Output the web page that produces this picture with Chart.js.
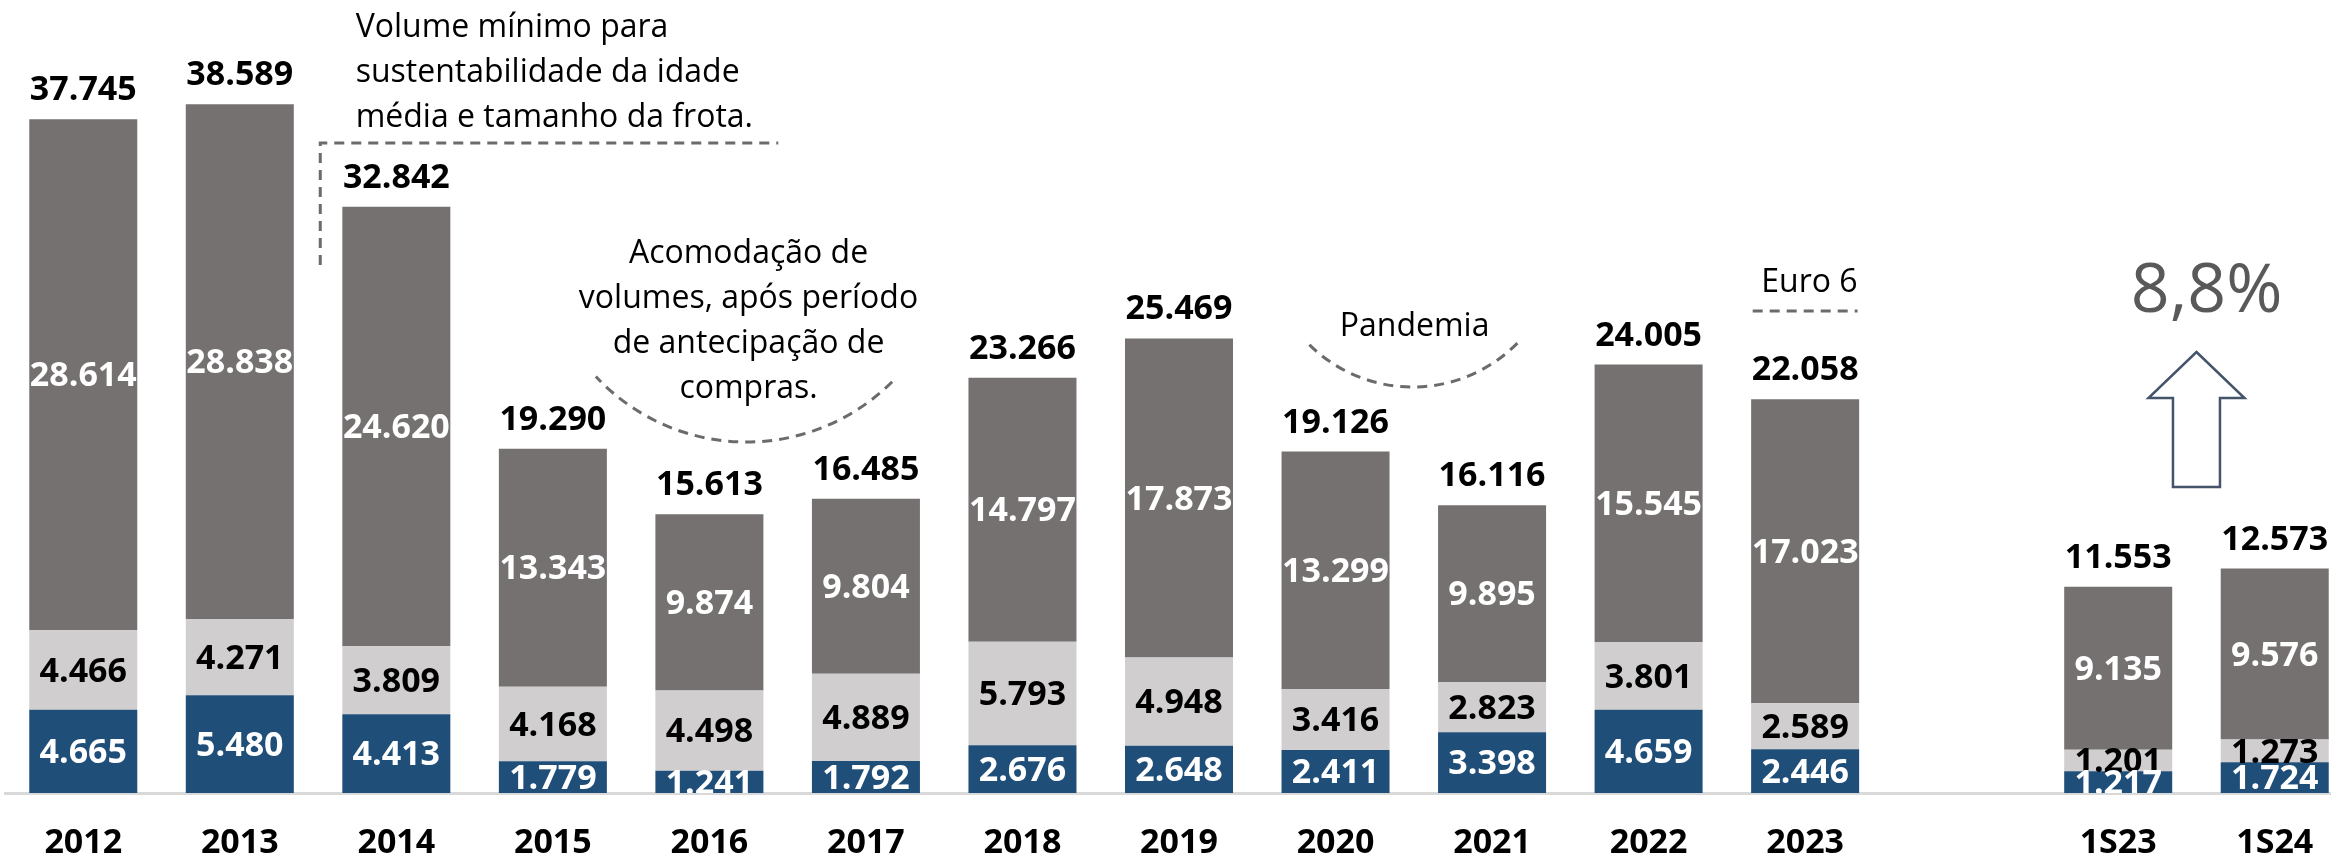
<!DOCTYPE html>
<html lang="pt-BR">
<head>
<meta charset="utf-8">
<script src="https://cdn.jsdelivr.net/npm/chart.js@4.4.1/dist/chart.umd.min.js"></script>
<style>
  html, body { margin: 0; padding: 0; background: #fff; overflow: hidden; }
  #wrap { position: relative; width: 2353px; height: 857px; }
</style>
</head>
<body>
<div id="wrap"><canvas id="vendas"></canvas></div>
<script>
const categorias = ['2012', '2013', '2014', '2015', '2016', '2017', '2018', '2019', '2020', '2021', '2022', '2023', '', '1S23', '1S24'];
const serieAzul = [4665, 5480, 4413, 1779, 1241, 1792, 2676, 2648, 2411, 3398, 4659, 2446, null, 1217, 1724];
const serieClara = [4466, 4271, 3809, 4168, 4498, 4889, 5793, 4948, 3416, 2823, 3801, 2589, null, 1201, 1273];
const serieEscura = [28614, 28838, 24620, 13343, 9874, 9804, 14797, 17873, 13299, 9895, 15545, 17023, null, 9135, 9576];

const notaFrota = ['Volume mínimo para', 'sustentabilidade da idade', 'média e tamanho da frota.'];
const notaAcomodacao = ['Acomodação de', 'volumes, após período', 'de antecipação de', 'compras.'];
const notaPandemia = 'Pandemia';
const notaEuro = 'Euro 6';
const variacao = '8,8%';

const fonte = "'Open Sans', 'Liberation Sans', sans-serif";
const tamRotulo = 34;
const tamNota = 32;
const corTraco = '#6b6b6b';

function fmt(v) {
  return String(v).replace(/\B(?=(\d{3})+(?!\d))/g, '.');
}

// rotulos dentro das barras + total em cima
const rotulosPlugin = {
  id: 'rotulos',
  afterDatasetsDraw(chart) {
    const { ctx, chartArea } = chart;
    const cores = ['#ffffff', '#000000', '#ffffff'];
    ctx.save();
    ctx.beginPath();
    ctx.rect(chartArea.left, chartArea.top, chartArea.width, chartArea.height);
    ctx.clip();
    ctx.font = `bold ${tamRotulo}px ${fonte}`;
    ctx.textAlign = 'center';
    ctx.textBaseline = 'middle';
    [1, 0, 2].forEach(i => {
      const ds = chart.data.datasets[i];
      chart.getDatasetMeta(i).data.forEach((bar, j) => {
        const v = ds.data[j];
        if (v == null) return;
        ctx.fillStyle = cores[i];
        ctx.fillText(fmt(v), bar.x, (bar.y + bar.base) / 2 + 2);
      });
    });
    ctx.restore();

    ctx.save();
    ctx.font = `bold ${tamRotulo}px ${fonte}`;
    ctx.textAlign = 'center';
    ctx.textBaseline = 'alphabetic';
    ctx.fillStyle = '#000';
    const topo = chart.getDatasetMeta(2).data;
    categorias.forEach((c, j) => {
      if (serieAzul[j] == null) return;
      const total = serieAzul[j] + serieClara[j] + serieEscura[j];
      ctx.fillText(fmt(total), topo[j].x, topo[j].y - 19);
    });
    ctx.restore();
  }
};

const anotacoesPlugin = {
  id: 'anotacoes',
  afterDraw(chart) {
    const { ctx } = chart;
    const X = i => chart.scales.x.getPixelForValue(i);
    const Y = v => chart.scales.y.getPixelForValue(v);
    ctx.save();
    ctx.fillStyle = '#000';
    ctx.font = `${tamNota}px ${fonte}`;
    ctx.textBaseline = 'alphabetic';

    ctx.textAlign = 'left';
    notaFrota.forEach((linha, k) => ctx.fillText(linha, X(1.74), Y(42350) + k * 45));

    ctx.textAlign = 'center';
    notaAcomodacao.forEach((linha, k) => ctx.fillText(linha, X(4.25), Y(29690) + k * 45));
    ctx.fillText(notaPandemia, X(8.505), Y(25600));

    ctx.textAlign = 'right';
    ctx.fillText(notaEuro, X(11.335), Y(28066));

    // linhas tracejadas
    ctx.strokeStyle = corTraco;
    ctx.lineWidth = 3;
    ctx.setLineDash([10, 7]);
    ctx.beginPath();
    ctx.moveTo(X(1.514), Y(29579));
    ctx.lineTo(X(1.514), Y(36413));
    ctx.lineTo(X(4.44), Y(36413));
    ctx.stroke();

    ctx.beginPath();
    ctx.moveTo(X(10.665), Y(27001));
    ctx.lineTo(X(11.335), Y(27001));
    ctx.stroke();

    ctx.beginPath();
    ctx.arc(X(4.237), Y(31203), 206, 45 * Math.PI / 180, 137 * Math.PI / 180);
    ctx.stroke();

    ctx.beginPath();
    ctx.arc(X(8.492), Y(30978), 147, 44.5 * Math.PI / 180, 135.5 * Math.PI / 180);
    ctx.stroke();
    ctx.setLineDash([]);

    // variacao 1S23 -> 1S24
    ctx.fillStyle = '#595959';
    ctx.font = `68px ${fonte}`;
    ctx.textAlign = 'center';
    ctx.textBaseline = 'middle';
    ctx.fillText(variacao, X(13.565), Y(28010));

    const cx = X(13.5), ponta = Y(24705), base = Y(22128), fundo = Y(17142);
    ctx.beginPath();
    ctx.moveTo(cx, ponta);
    ctx.lineTo(cx + 48, base);
    ctx.lineTo(cx + 23.5, base);
    ctx.lineTo(cx + 23.5, fundo);
    ctx.lineTo(cx - 23.5, fundo);
    ctx.lineTo(cx - 23.5, base);
    ctx.lineTo(cx - 48, base);
    ctx.closePath();
    ctx.fillStyle = '#fff';
    ctx.fill();
    ctx.strokeStyle = '#44546A';
    ctx.lineWidth = 2.5;
    ctx.stroke();
    ctx.restore();
  }
};

new Chart(document.getElementById('vendas'), {
  type: 'bar',
  data: {
    labels: categorias,
    datasets: [
      { label: 'Azul', data: serieAzul, backgroundColor: '#1F4E79' },
      { label: 'Clara', data: serieClara, backgroundColor: '#D0CECE' },
      { label: 'Escura', data: serieEscura, backgroundColor: '#767171' }
    ]
  },
  options: {
    responsive: true,
    maintainAspectRatio: false,
    animation: false,
    layout: { padding: { left: 5, right: 0, top: 0, bottom: 0 } },
    datasets: { bar: { categoryPercentage: 1, barPercentage: 0.69, borderWidth: 0 } },
    plugins: { legend: { display: false }, tooltip: { enabled: false } },
    scales: {
      x: {
        stacked: true,
        grid: { display: false, drawTicks: false },
        border: { display: true, color: '#D9D9D9', width: 3 },
        ticks: {
          color: '#000',
          font: { family: fonte, size: tamRotulo, weight: 'bold' },
          padding: 30,
          autoSkip: false,
          maxRotation: 0
        },
        afterFit(s) { s.height = 64; }
      },
      y: { stacked: true, display: false, min: 0, max: 44426 }
    }
  },
  plugins: [rotulosPlugin, anotacoesPlugin]
});
</script>
</body>
</html>
